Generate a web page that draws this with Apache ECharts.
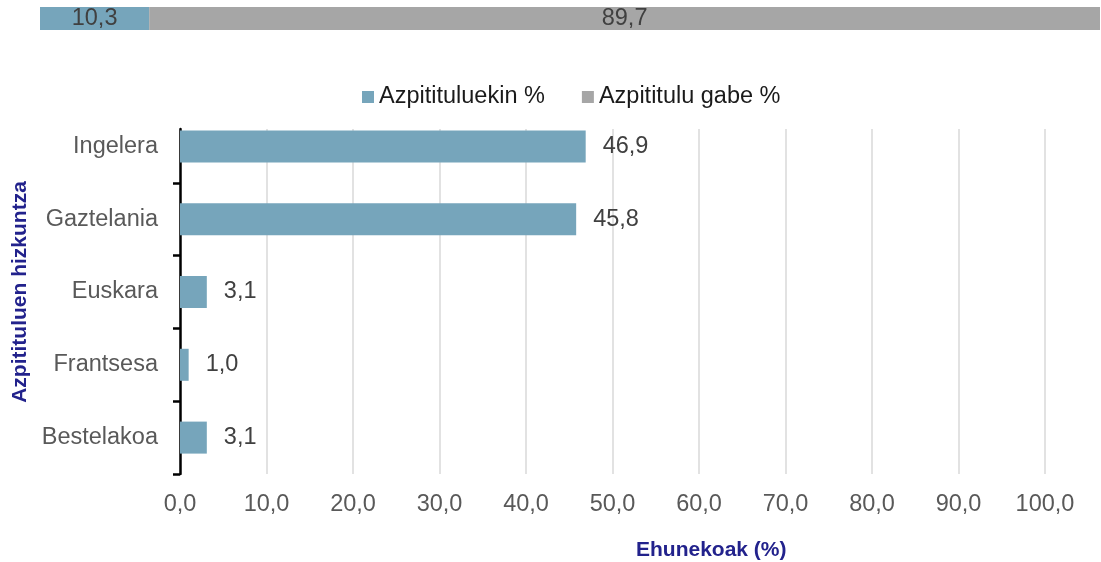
<!DOCTYPE html>
<html><head><meta charset="utf-8">
<script src="https://cdn.jsdelivr.net/npm/echarts@6/dist/echarts.min.js"></script>
<style>html,body{margin:0;padding:0;background:#fff}#c{width:1101px;height:562px}</style>
</head><body><div id="c"></div>
<script>
const categories = ['Ingelera', 'Gaztelania', 'Euskara', 'Frantsesa', 'Bestelakoa'];
const subtitledValues = [46.9, 45.8, 3.1, 1.0, 3.1];
const totalWith = [10.3];
const totalWithout = [89.7];
const xTicks = [0, 10, 20, 30, 40, 50, 60, 70, 80, 90, 100];
const seriesNames = ['Azpitituluekin %', 'Azpititulu gabe %'];

const BLUE = '#76a5bb', GREY = '#a6a6a6', NAVY = '#22228c';
const FONT = '"Liberation Sans", Arial, sans-serif';
const FS = 23.5;
const fmt = v => Number(v).toFixed(1).replace('.', ',');

const chart = echarts.init(document.getElementById('c'), null, {renderer: 'canvas'});
chart.setOption({
  animation: false,
  textStyle: {fontFamily: FONT},
  title: {text: 'Ehunekoak (%)', left: 636, top: 540, padding: 0,
    textStyle: {fontFamily: FONT, fontSize: 21, fontWeight: 'bold', color: NAVY}},
  legend: {data: seriesNames, left: 357, top: 80, icon: 'rect', itemWidth: 12, itemHeight: 12, itemGap: 37,
    textStyle: {fontFamily: FONT, fontSize: FS, color: '#1a1a1a'}},
  grid: [
    {left: 180, right: 56, top: 110, bottom: 88},
    {left: 180, right: 56, top: 129, bottom: 88},
    {left: 40, right: 1, top: 7, height: 23}
  ],
  xAxis: [
    {gridIndex: 0, type: 'value', min: 0, max: 100, show: false},
    {gridIndex: 1, type: 'value', min: 0, max: 100, interval: 10,
      axisLine: {show: false}, axisTick: {show: false},
      splitLine: {show: true, lineStyle: {color: '#d9d9d9', width: 1.5}},
      axisLabel: {formatter: fmt, fontSize: FS, color: '#595959', margin: 18.5, fontFamily: FONT}},
    {gridIndex: 2, type: 'value', min: 0, max: 100, show: false}
  ],
  yAxis: [
    {gridIndex: 0, type: 'category', data: categories, inverse: true,
      axisLine: {show: false},
      axisTick: {show: true, length: 7, interval: (i) => i !== 0, lineStyle: {color: '#000', width: 2.5}},
      axisLabel: {fontSize: FS, color: '#595959', margin: 22, fontFamily: FONT},
      name: 'Azpitituluen hizkuntza', nameLocation: 'middle', nameRotate: 90, nameGap: 147,
      nameTextStyle: {fontSize: 21, fontWeight: 'bold', color: NAVY, fontFamily: FONT}},
    {gridIndex: 1, type: 'value', min: 0, max: 1,
      axisLine: {show: true, lineStyle: {color: '#000', width: 2.5}},
      axisTick: {show: false}, axisLabel: {show: false}, splitLine: {show: false}},
    {gridIndex: 2, type: 'category', data: ['Guztira'], show: false}
  ],
  series: [
    {name: seriesNames[0], type: 'bar', xAxisIndex: 0, yAxisIndex: 0, data: subtitledValues,
      barWidth: 32, itemStyle: {color: BLUE},
      label: {show: true, position: 'right', distance: 17, formatter: p => fmt(p.value),
        fontSize: FS, color: '#404040', fontFamily: FONT}},
    {name: seriesNames[0], type: 'bar', xAxisIndex: 2, yAxisIndex: 2, stack: 'tot', data: totalWith,
      barWidth: 23, itemStyle: {color: BLUE},
      label: {show: true, position: 'inside', formatter: p => fmt(p.value),
        fontSize: FS, color: '#404040', fontFamily: FONT}},
    {name: seriesNames[1], type: 'bar', xAxisIndex: 2, yAxisIndex: 2, stack: 'tot', data: totalWithout,
      barWidth: 23, itemStyle: {color: GREY},
      label: {show: true, position: 'inside', formatter: p => fmt(p.value),
        fontSize: FS, color: '#404040', fontFamily: FONT}}
  ]
});
</script></body></html>
